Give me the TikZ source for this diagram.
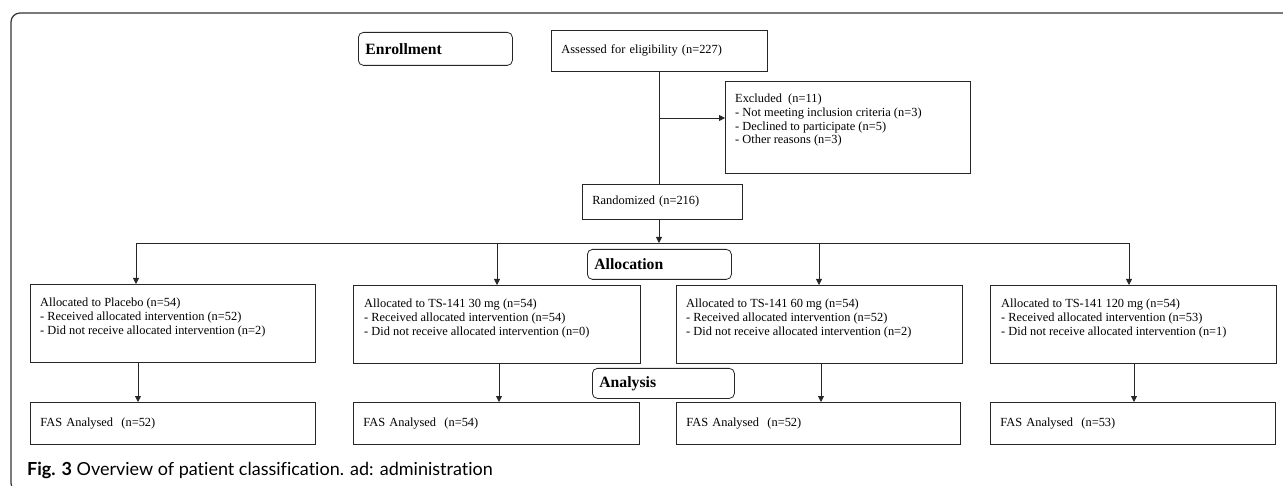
\documentclass[tikz,border=0pt]{standalone}
\usepackage{fontspec}
\setmainfont{Liberation Serif}
\newfontfamily\capfont[Ligatures=NoCommon]{Lato}
\usetikzlibrary{arrows.meta}

\tikzset{
  box/.style={draw=black!85, line width=0.8pt, anchor=north west, inner sep=0pt},
  cell/.style={box, align=left, inner xsep=10pt, font=\fontsize{12.4}{13.7}\selectfont},
  phase/.style={box, rounded corners=5pt, align=left, inner xsep=7pt, font=\fontsize{15.7}{18}\selectfont\bfseries},
  txt/.style={anchor=north west, inner sep=0pt, align=left, font=\fontsize{12.4}{13.7}\selectfont},
  line/.style={draw=black!85, line width=0.8pt},
  arr/.style={line, -{Triangle[width=6pt,length=6pt]}}
}

\begin{document}
\begin{tikzpicture}[x=1pt,y=-1pt]
\useasboundingbox (0,0) rectangle (1283,486);

% Frame
\draw[line width=1.2pt, black!80, rounded corners=9pt] (1295,13) -- (11,13) -- (11,492) -- (40,492);

% Enrollment
\node[phase, minimum width=154pt, minimum height=33pt, text width=140pt] (enrol) at (358,32) {Enrollment};
\node[cell, minimum width=216pt, minimum height=41pt, text width=196pt] (assess) at (551,30) {Assessed for eligibility (n=227)};

% Excluded
\node[box, minimum width=245pt, minimum height=92pt] (excl) at (725,81) {};
\node[txt] (excl-t) at ([shift={(10,13)}]excl.north west) {Excluded\ \ (n=11)\\
- Not meeting inclusion criteria (n=3)\\
- Declined to participate (n=5)\\
- Other reasons (n=3)};

% Randomized
\node[cell, minimum width=160pt, minimum height=35pt, text width=140pt] (rand) at (582,184) {Randomized (n=216)};

\draw[line] (assess.south) -- (assess.south |- rand.north);
\coordinate (xin) at (659,118);
\draw[arr] (xin) -- (xin -| excl.west);

% Split
\coordinate (split) at (659,243);
\coordinate (d1) at (136,243);
\coordinate (d2) at (497,243);
\coordinate (d3) at (819,243);
\coordinate (d4) at (1129,243);
\draw[arr] (rand.south -| split) -- (split);
\draw[line] (d1) -- (d4);

% Allocation
\node[phase, minimum width=144pt, minimum height=30pt, text width=130pt] (alloc) at (587,249) {Allocation};

\node[box, minimum width=285pt, minimum height=78pt] (plac) at (30,284) {};
\node[txt] (plac-t) at ([shift={(10,14)}]plac.north west) {Allocated to Placebo (n=54)\\
- Received allocated intervention (n=52)\\
- Did not receive allocated intervention (n=2)};

\node[box, minimum width=287pt, minimum height=78pt] (ts30) at (353,285) {};
\node[txt] (ts30-t) at ([shift={(11,14)}]ts30.north west) {Allocated to TS-141 30 mg (n=54)\\
- Received allocated intervention (n=54)\\
- Did not receive allocated intervention (n=0)};

\node[box, minimum width=286pt, minimum height=78pt] (ts60) at (676,285) {};
\node[txt] (ts60-t) at ([shift={(10,14)}]ts60.north west) {Allocated to TS-141 60 mg (n=54)\\
- Received allocated intervention (n=52)\\
- Did not receive allocated intervention (n=2)};

\node[box, minimum width=286pt, minimum height=78pt] (ts120) at (990,285) {};
\node[txt] (ts120-t) at ([shift={(11,14)}]ts120.north west) {Allocated to TS-141 120 mg (n=54)\\
- Received allocated intervention (n=53)\\
- Did not receive allocated intervention (n=1)};

\draw[arr] (d1) -- (d1 |- plac.north);
\draw[arr] (d2) -- (d2 |- ts30.north);
\draw[arr] (d3) -- (d3 |- ts60.north);
\draw[arr] (d4) -- (d4 |- ts120.north);

% Analysis
\node[phase, minimum width=142pt, minimum height=30pt, text width=128pt] (anal) at (592,368) {Analysis};

\node[cell, minimum width=285pt, minimum height=42pt, text width=265pt] (fas1) at (30,402) {FAS Analysed\ \ (n=52)};
\node[cell, minimum width=286pt, minimum height=42pt, text width=266pt] (fas2) at (353,402) {FAS Analysed\ \ (n=54)};
\node[cell, minimum width=284pt, minimum height=42pt, text width=264pt] (fas3) at (676,402) {FAS Analysed\ \ (n=52)};
\node[cell, minimum width=285pt, minimum height=42pt, text width=265pt] (fas4) at (990,402) {FAS Analysed\ \ (n=53)};

\draw[arr] ([xshift=2pt]d1 |- plac.south) -- ([xshift=2pt]d1 |- fas1.north);
\draw[arr] ([xshift=2pt]d2 |- ts30.south) -- ([xshift=2pt]d2 |- fas2.north);
\draw[arr] ([xshift=2pt]d3 |- ts60.south) -- ([xshift=2pt]d3 |- fas3.north);
\draw[arr] ([xshift=5pt]d4 |- ts120.south) -- ([xshift=5pt]d4 |- fas4.north);

% Caption
\node[anchor=base west, inner sep=0pt, font=\capfont\fontsize{18}{21}\selectfont] (cap) at (27,475) {\textbf{Fig. 3} Overview of patient classification. ad: administration};
\end{tikzpicture}
\end{document}
